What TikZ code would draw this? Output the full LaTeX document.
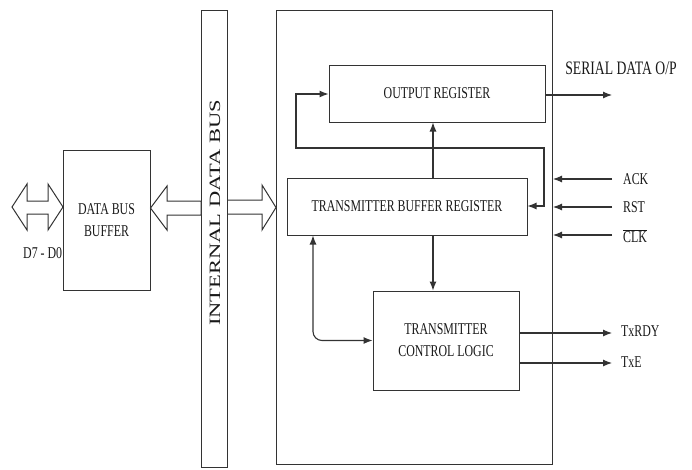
\documentclass[tikz,border=0pt]{standalone}
\usepackage{fontspec}
\usepackage{graphicx}
\setmainfont{Liberation Serif}[FakeStretch=0.72]
\newfontfamily\busfont{Liberation Serif}
\usetikzlibrary{arrows.meta}
\begin{document}
\begin{tikzpicture}[x=1pt,y=-1pt,
  blockbox/.style={draw=black!80,line width=1pt,inner sep=0pt,align=center,
    text=black!90,font=\fontsize{16.5}{22}\selectfont},
  lbl/.style={inner sep=0pt,text=black!90,font=\fontsize{16.5}{22}\selectfont},
  conn/.style={draw=black!80,line width=1.1pt,-{Latex[length=9pt,width=7pt]}},
  dconn/.style={draw=black!80,line width=1.1pt,{Latex[length=9pt,width=7pt]}-{Latex[length=9pt,width=7pt]}},
  hollow/.style={draw=black!80,line width=1pt,fill=white,line join=miter}]
\useasboundingbox (0,0) rectangle (692,469);
\fill[white] (0,0) rectangle (692,469);

% big enclosure and internal bus
\node[blockbox,minimum width=276pt,minimum height=454pt] (big) at (414.5,237) {};
\node[blockbox,minimum width=26pt,minimum height=457pt] (bus) at (214.5,238.5) {};
\node[inner sep=0pt,rotate=90,text=black!90] (buslbl) at (215,213)
  {\busfont\fontsize{22.5}{24}\selectfont\scalebox{1}[0.7]{INTERNAL DATA BUS}};

% blocks
\node[blockbox,minimum width=87pt,minimum height=140pt] (buf) at (106.5,220) {DATA BUS\\BUFFER};
\node[blockbox,minimum width=216pt,minimum height=57pt] (outreg) at (437,93.5) {OUTPUT REGISTER};
\node[blockbox,minimum width=240pt,minimum height=57pt] (tbr) at (407,206.5) {TRANSMITTER BUFFER REGISTER};
\node[blockbox,minimum width=146pt,minimum height=99pt] (tcl) at (446,340.5) {TRANSMITTER\\CONTROL LOGIC};

% hollow block arrows
\draw[hollow] (12,207) -- (27,184) -- (27,201) -- (48,201) -- (48,184) -- (63,207)
  -- (48,230) -- (48,214) -- (27,214) -- (27,230) -- cycle;
\draw[hollow] (buf.east |- 0,208) -- (167,186) -- (167,201) -- (bus.west |- 0,201)
  -- (bus.west |- 0,215) -- (167,215) -- (167,230) -- cycle;
\draw[hollow] (bus.east |- 0,200) -- (262,200) -- (262,185) -- (big.west |- 0,207.5)
  -- (262,230) -- (262,214) -- (bus.east |- 0,214);

\node[lbl,anchor=west] (dlbl) at (23,253) {D7 - D0};

% internal connectors
\draw[conn] (tbr.north -| outreg.south) ++(-4,0) coordinate (tbrtop) -- (tbrtop |- outreg.south);
\draw[conn] (tbr.south -| tbrtop) -- (tbrtop |- tcl.north);
\coordinate (fbA) at (544,206);
\coordinate (fbB) at (544,148);
\coordinate (fbC) at (296,148);
\coordinate (fbD) at (296,94);
\draw[dconn] (tbr.east |- fbA) -- (fbA) -- (fbB) -- (fbC) -- (fbD) -- (outreg.west |- fbD);
\coordinate (cvA) at (313,235);
\draw[dconn,rounded corners=9pt] (tbr.south -| cvA) |- (tcl.west);

% outputs
\coordinate (serialend) at (612,95);
\draw[conn] (outreg.east |- serialend) -- (serialend);
\node[lbl,font=\fontsize{19}{22}\selectfont] (serial) at (621,68) {SERIAL DATA O/P};

\node[lbl,anchor=west] (ack) at (623,179) {ACK};
\node[lbl,anchor=west] (rst) at (623,207) {RST};
\node[lbl,anchor=west] (clk) at (623,236) {$\overline{\mbox{CLK}}$};
\draw[conn] (ack.west) ++(-11,0) -- (big.east |- ack.west);
\draw[conn] (rst.west) ++(-11,0) -- (big.east |- rst.west);
\draw[conn] (623,235) ++(-11,0) -- (big.east |- 0,235);

\node[lbl,anchor=west] (txrdy) at (621,331) {TxRDY};
\node[lbl,anchor=west] (txe) at (621,362) {TxE};
\draw[conn] (tcl.east |- 0,333) -- (612,333);
\draw[conn] (tcl.east |- 0,363) -- (612,363);
\end{tikzpicture}
\end{document}
